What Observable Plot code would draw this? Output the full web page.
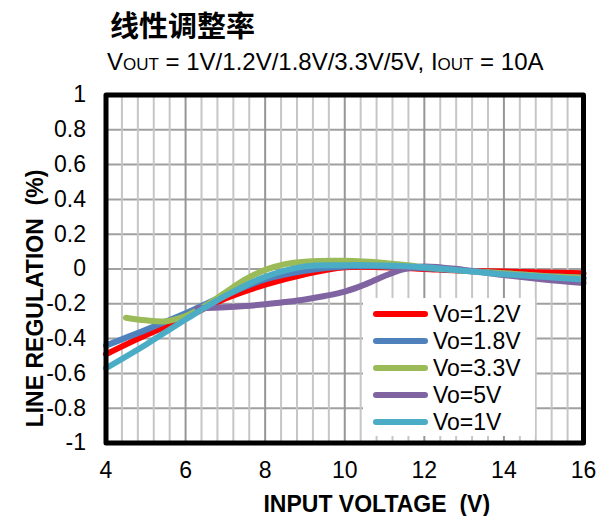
<!DOCTYPE html>
<html>
<head>
<meta charset="utf-8">
<script src="https://cdn.jsdelivr.net/npm/d3@7"></script>
<script src="https://cdn.jsdelivr.net/npm/@observablehq/plot@0.6"></script>
<style>
  body { margin: 0; background: #fff; }
  #wrap { position: relative; width: 607px; height: 516px; overflow: hidden; font-family: "Liberation Sans", Arial, sans-serif; color: #000; }
  #chart { position: absolute; left: 0; top: 0; }
  #title { position: absolute; left: 110px; top: 10px; font: 700 29px/29px "Noto Sans CJK SC", sans-serif; white-space: nowrap; }
  #subtitle { position: absolute; left: 107px; top: 50px; font-size: 24px; line-height: 24px; white-space: nowrap; }
  #subtitle .sc { font-size: 17px; }
  #legend { position: absolute; left: 363px; top: 298px; width: 172px; height: 138px; background: #fff; }
  #legend .swatch { position: absolute; left: 10px; width: 55px; height: 6px; border-radius: 3px; }
  #legend .label { position: absolute; left: 70px; font-size: 23px; line-height: 27px; height: 27px; white-space: nowrap; }
</style>
</head>
<body>
<div id="wrap">
  <div id="chart"></div>
  <div id="title">线性调整率</div>
  <div id="subtitle">V<span class="sc">OUT</span> = 1V/1.2V/1.8V/3.3V/5V, I<span class="sc">OUT</span> = 10A</div>
  <div id="legend"></div>
</div>
<script>
// Series names and colours, in drawing / legend order
const seriesNames = ["Vo=1.2V", "Vo=1.8V", "Vo=3.3V", "Vo=5V", "Vo=1V"];
const seriesColors = ["#ff0000", "#4f81bd", "#9bbb59", "#8064a2", "#4bacc6"];

// Line regulation (%) versus input voltage (V), one pair of arrays per output voltage
const vin_1v2 = [4, 5, 6, 7, 8, 9, 10, 11, 12, 13, 14, 15, 16];
const reg_1v2 = [-0.49, -0.38, -0.28, -0.17, -0.09, -0.03, 0.01, 0.01, 0.0, -0.01, -0.015, -0.02, -0.025];

const vin_1v8 = [4, 5, 6, 7, 8, 9, 10, 11, 12, 13, 14, 15, 16];
const reg_1v8 = [-0.44, -0.35, -0.255, -0.15, -0.06, -0.01, 0.015, 0.015, 0.005, -0.01, -0.025, -0.04, -0.05];

const vin_3v3 = [4.5, 5, 5.5, 6, 6.5, 7, 7.5, 8, 8.5, 9, 10, 11, 12, 13, 14, 15, 16];
const reg_3v3 = [-0.28, -0.295, -0.3, -0.27, -0.21, -0.135, -0.06, -0.005, 0.028, 0.042, 0.047, 0.035, 0.01, -0.01, -0.025, -0.04, -0.05];

const vin_5v = [6.3, 7, 7.5, 8, 8.5, 9, 9.5, 10, 10.5, 11, 11.5, 12, 13, 14, 15, 16];
const reg_5v = [-0.225, -0.22, -0.213, -0.203, -0.19, -0.175, -0.155, -0.13, -0.09, -0.04, 0.0, 0.015, -0.005, -0.035, -0.06, -0.08];

const vin_1v = [4, 5, 6, 7, 8, 9, 10, 11, 12, 13, 14, 15, 16];
const reg_1v = [-0.57, -0.435, -0.29, -0.155, -0.045, 0.015, 0.022, 0.02, 0.01, -0.01, -0.03, -0.045, -0.06];

// Axis ticks and grid
const xTicks = [4, 6, 8, 10, 12, 14, 16];
const yTicks = [1, 0.8, 0.6, 0.4, 0.2, 0, -0.2, -0.4, -0.6, -0.8, -1];
const xMinor = d3.range(1, 30).map(i => 4 + i * 0.4).filter(v => Math.abs(v / 2 - Math.round(v / 2)) > 1e-6);
const xMajor = [6, 8, 10, 12, 14];
const yGrid = [0.8, 0.6, 0.4, 0.2, 0, -0.2, -0.4, -0.6, -0.8];

const seriesX = [vin_1v2, vin_1v8, vin_3v3, vin_5v, vin_1v];
const seriesY = [reg_1v2, reg_1v8, reg_3v3, reg_5v, reg_1v];
const rows = seriesNames.flatMap((name, s) =>
  seriesX[s].map((v, i) => ({series: name, vin: v, reg: seriesY[s][i]}))
);

const chart = Plot.plot({
  width: 607,
  height: 516,
  marginTop: 94.5,
  marginBottom: 73.5,
  marginLeft: 105.5,
  marginRight: 24,
  x: {domain: [4, 16]},
  y: {domain: [-1, 1]},
  color: {domain: seriesNames, range: seriesColors},
  style: {fontFamily: "'Liberation Sans', Arial, sans-serif", background: "transparent", color: "#000"},
  marks: [
    Plot.ruleY(yGrid, {stroke: "#a0a0a0", strokeWidth: 2}),
    Plot.ruleX(xMinor, {stroke: "#c6c6c6", strokeWidth: 2}),
    Plot.ruleX(xMajor, {stroke: "#969696", strokeWidth: 2}),
    Plot.line(rows, {
      x: "vin", y: "reg", z: "series", stroke: "series",
      strokeWidth: 6, curve: "catmull-rom",
      strokeLinecap: "round", strokeLinejoin: "round"
    }),
    Plot.frame({stroke: "#000", strokeWidth: 5, strokeLinejoin: "round"}),
    Plot.axisX(xTicks, {tickSize: 0, tickPadding: 19, fontSize: 23, label: null, tickFormat: d => String(d)}),
    Plot.axisY(yTicks, {tickSize: 0, tickPadding: 20, fontSize: 23, label: null, tickFormat: d => String(d)}),
    Plot.text(["INPUT VOLTAGE  (V)"], {frameAnchor: "bottom", textAnchor: "middle", dx: 32, dy: 69, fontSize: 23, fontWeight: "bold"}),
    Plot.text(["LINE REGULATION  (%)"], {frameAnchor: "left", textAnchor: "middle", rotate: -90, dx: -70, dy: 29.5, fontSize: 23, fontWeight: "bold"})
  ]
});
document.getElementById("chart").appendChild(chart);

// Legend box drawn over the lower-right of the plot area
const legend = document.getElementById("legend");
seriesNames.forEach((name, i) => {
  const cy = 16 + i * 27;
  const sw = document.createElement("div");
  sw.className = "swatch";
  sw.style.top = (cy - 3) + "px";
  sw.style.background = seriesColors[i];
  legend.appendChild(sw);
  const lb = document.createElement("div");
  lb.className = "label";
  lb.style.top = (cy - 13.5) + "px";
  lb.textContent = name;
  legend.appendChild(lb);
});
</script>
</body>
</html>
